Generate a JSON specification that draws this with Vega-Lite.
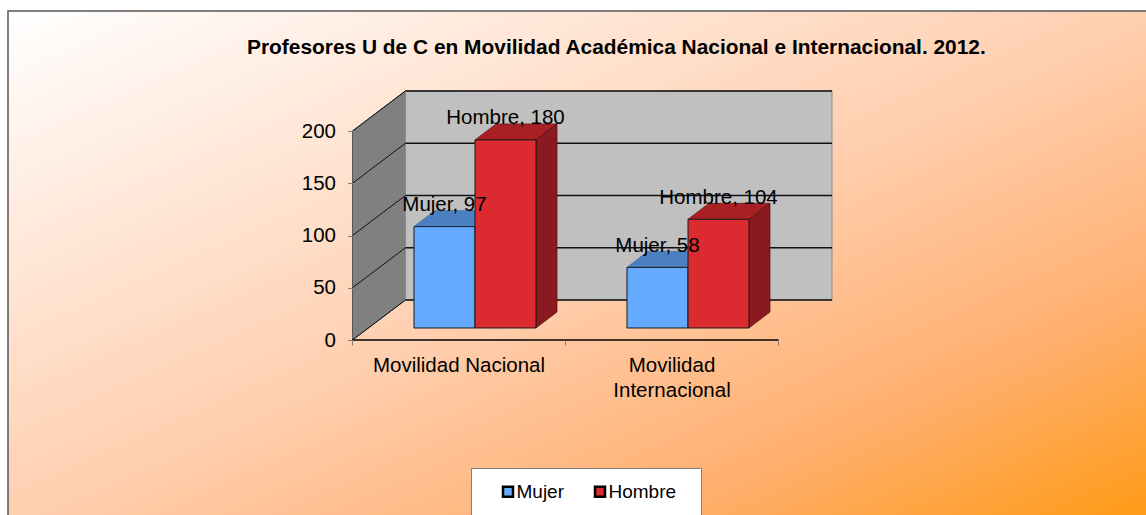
{
"$schema":"https://vega.github.io/schema/vega-lite/v6.json",
"width":1146,"height":515,"padding":0,"autosize":"none","background":"white",
"title":{"text":"Profesores U de C en Movilidad  Académica Nacional e Internacional. 2012.","font":"Liberation Sans","fontWeight":"bold","fontSize":20.9,"color":"#000000","anchor":"start","frame":"group","dx":247,"dy":75,"offset":0,"baseline":"alphabetic"},
"config":{"view":{"stroke":null},"font":"Liberation Sans"},
"datasets":{
"barras":[
{"categoria":"Movilidad Nacional","serie":"Mujer","valor":97},
{"categoria":"Movilidad Nacional","serie":"Hombre","valor":180},
{"categoria":"Movilidad Internacional","serie":"Mujer","valor":58},
{"categoria":"Movilidad Internacional","serie":"Hombre","valor":104}
],
"niveles":[{"nivel":0},{"nivel":50},{"nivel":100},{"nivel":150},{"nivel":200}]
},
"layer":[
{"data":{"values":[{}]},"mark":{"type":"rect","stroke":"#555555","strokeWidth":1.5,"fill":{"gradient":"linear","x1":0,"y1":0,"x2":1,"y2":1,"stops":[{"offset":0,"color":"#FFFFFF"},{"offset":0.5,"color":"#FFCFB0"},{"offset":0.78,"color":"#FFAF6E"},{"offset":1,"color":"#FF9A14"}]}},
"encoding":{
"x":{"datum":-1.6174,"type":"quantitative","scale":{"domain":[-1.6549,3.7254],"range":[0,1146],"nice":false,"zero":false},"axis":{"values":[0,1,2],"labels":false,"domain":false,"grid":false,"ticks":true,"tickSize":5,"tickColor":"#808080","tickWidth":1,"title":null,"orient":"bottom","offset":-175,"zindex":1}},
"x2":{"datum":3.76},
"y":{"datum":314.83,"type":"quantitative","scale":{"domain":[-167.46,325.36],"range":[515,0],"nice":false,"zero":false},"axis":{"values":[0,50,100,150,200],"labels":true,"domain":false,"grid":false,"ticks":true,"tickSize":5,"tickColor":"#808080","tickWidth":1,"title":null,"orient":"left","offset":-352.5,"labelPadding":12,"labelFont":"Liberation Sans","labelFontSize":20.5,"labelColor":"#000000","zindex":1}},
"y2":{"datum":-172}
}},
{"data":{"values":[{"p":0},{"p":1}]},"transform":[{"calculate":"0.2488*datum.p","as":"xp"},{"calculate":"38.3*datum.p","as":"ybase"},{"calculate":"200+38.3*datum.p","as":"ytecho"}],
"mark":{"type":"area","orient":"vertical","color":"#808080","stroke":"#555555","strokeWidth":1},
"encoding":{"x":{"field":"xp","type":"quantitative","scale":{"domain":[-1.6549,3.7254],"range":[0,1146],"nice":false,"zero":false}},"y":{"field":"ybase","type":"quantitative","stack":null,"scale":{"domain":[-167.46,325.36],"range":[515,0],"nice":false,"zero":false}},"y2":{"field":"ytecho"}}},
{"data":{"values":[{}]},"mark":{"type":"rect","fill":"#C0C0C0","stroke":"#8C8C8C","strokeWidth":1},
"encoding":{"x":{"datum":0.2488,"type":"quantitative","scale":{"domain":[-1.6549,3.7254],"range":[0,1146],"nice":false,"zero":false}},"x2":{"datum":2.2512},"y":{"datum":38.3,"type":"quantitative","scale":{"domain":[-167.46,325.36],"range":[515,0],"nice":false,"zero":false}},"y2":{"datum":238.3}}},
{"data":{"name":"niveles"},"transform":[{"calculate":"[0,1]","as":"p"},{"flatten":["p"]},{"calculate":"0.2488*datum.p","as":"xp"},{"calculate":"datum.nivel+38.3*datum.p","as":"yp"}],
"mark":{"type":"line","color":"#111111","strokeWidth":1},
"encoding":{"x":{"field":"xp","type":"quantitative","scale":{"domain":[-1.6549,3.7254],"range":[0,1146],"nice":false,"zero":false}},"y":{"field":"yp","type":"quantitative","stack":null,"scale":{"domain":[-167.46,325.36],"range":[515,0],"nice":false,"zero":false}},"detail":{"field":"nivel"}}},
{"data":{"name":"niveles"},"transform":[{"calculate":"datum.nivel+38.3","as":"yp"}],
"mark":{"type":"rule","color":"#111111","strokeWidth":1.3},
"encoding":{"x":{"datum":0.2488,"type":"quantitative","scale":{"domain":[-1.6549,3.7254],"range":[0,1146],"nice":false,"zero":false}},"x2":{"datum":2.2512},"y":{"field":"yp","type":"quantitative","scale":{"domain":[-167.46,325.36],"range":[515,0],"nice":false,"zero":false}}}},
{"data":{"values":[{}]},"mark":{"type":"rule","color":"#000000","strokeWidth":1.5},
"encoding":{"x":{"datum":0,"type":"quantitative","scale":{"domain":[-1.6549,3.7254],"range":[0,1146],"nice":false,"zero":false}},"x2":{"datum":2},"y":{"datum":0,"type":"quantitative","scale":{"domain":[-167.46,325.36],"range":[515,0],"nice":false,"zero":false}}}},
{"data":{"name":"barras"},"transform":[{"filter":"datum.serie==='Mujer'"},{"calculate":"(datum.categoria==='Movilidad Nacional'?0:1)+0.2887","as":"xa"},{"calculate":"datum.xa+0.2864","as":"xb"},{"calculate":"datum.valor+11.5","as":"ytop"},{"calculate":"[0,1,2,3]","as":"k"},{"flatten":["k"]},{"calculate":"[datum.xa,datum.xa+0.0986,datum.xb,datum.xb+0.0986][datum.k]","as":"xp"},{"calculate":"datum.ytop+(datum.k==3?15.3:0)","as":"y1"},{"calculate":"datum.ytop+(datum.k==0?0:15.3)","as":"y2"}],
"mark":{"type":"area","orient":"vertical","color":"#4A80C2","stroke":"#3A5F90","strokeWidth":0.7},
"encoding":{"x":{"field":"xp","type":"quantitative","scale":{"domain":[-1.6549,3.7254],"range":[0,1146],"nice":false,"zero":false}},"y":{"field":"y1","type":"quantitative","stack":null,"scale":{"domain":[-167.46,325.36],"range":[515,0],"nice":false,"zero":false}},"y2":{"field":"y2"},"detail":{"field":"categoria"}}},
{"data":{"name":"barras"},"transform":[{"filter":"datum.serie==='Hombre'"},{"calculate":"(datum.categoria==='Movilidad Nacional'?0:1)+0.5751","as":"xa"},{"calculate":"datum.xa+0.2864","as":"xb"},{"calculate":"datum.valor+11.5","as":"ytop"},{"calculate":"[0,1,2,3]","as":"k"},{"flatten":["k"]},{"calculate":"[datum.xa,datum.xa+0.0986,datum.xb,datum.xb+0.0986][datum.k]","as":"xp"},{"calculate":"datum.ytop+(datum.k==3?15.3:0)","as":"y1"},{"calculate":"datum.ytop+(datum.k==0?0:15.3)","as":"y2"}],
"mark":{"type":"area","orient":"vertical","color":"#A82024","stroke":"#6E1215","strokeWidth":0.7},
"encoding":{"x":{"field":"xp","type":"quantitative","scale":{"domain":[-1.6549,3.7254],"range":[0,1146],"nice":false,"zero":false}},"y":{"field":"y1","type":"quantitative","stack":null,"scale":{"domain":[-167.46,325.36],"range":[515,0],"nice":false,"zero":false}},"y2":{"field":"y2"},"detail":{"field":"categoria"}}},
{"data":{"name":"barras"},"transform":[{"filter":"datum.serie==='Hombre'"},{"calculate":"(datum.categoria==='Movilidad Nacional'?0:1)+0.8615","as":"xb"},{"calculate":"[0,1]","as":"k"},{"flatten":["k"]},{"calculate":"datum.xb+0.0986*datum.k","as":"xp"},{"calculate":"11.5+15.3*datum.k","as":"y1"},{"calculate":"datum.valor+11.5+15.3*datum.k","as":"y2"}],
"mark":{"type":"area","orient":"vertical","color":"#8B1A20","stroke":"#4A0E10","strokeWidth":0.7},
"encoding":{"x":{"field":"xp","type":"quantitative","scale":{"domain":[-1.6549,3.7254],"range":[0,1146],"nice":false,"zero":false}},"y":{"field":"y1","type":"quantitative","stack":null,"scale":{"domain":[-167.46,325.36],"range":[515,0],"nice":false,"zero":false}},"y2":{"field":"y2"},"detail":{"field":"categoria"}}},
{"data":{"values":[{}]},"mark":{"type":"rect","fill":"#FFFFFF","stroke":"#808080","strokeWidth":1},
"encoding":{"x":{"datum":0.5587,"type":"quantitative","scale":{"domain":[-1.6549,3.7254],"range":[0,1146],"nice":false,"zero":false}},"x2":{"datum":1.6385},"y":{"datum":-122.97,"type":"quantitative","scale":{"domain":[-167.46,325.36],"range":[515,0],"nice":false,"zero":false}},"y2":{"datum":-172}}},
{"data":{"name":"barras"},"transform":[{"calculate":"(datum.categoria==='Movilidad Nacional'?0:1)+(datum.serie==='Mujer'?0.2887:0.5751)","as":"xa"},{"calculate":"datum.xa+0.2864","as":"xb"},{"calculate":"datum.valor+11.5","as":"ytop"},{"calculate":"11.5","as":"ybot"}],
"mark":{"type":"rect","stroke":"#1A1A1A","strokeWidth":1},
"encoding":{"x":{"field":"xa","type":"quantitative","scale":{"domain":[-1.6549,3.7254],"range":[0,1146],"nice":false,"zero":false}},"x2":{"field":"xb"},"y":{"field":"ybot","type":"quantitative","scale":{"domain":[-167.46,325.36],"range":[515,0],"nice":false,"zero":false}},"y2":{"field":"ytop"},
"fill":{"field":"serie","type":"nominal","scale":{"domain":["Mujer","Hombre"],"range":["#66AAFF","#DC2B30"]},"legend":{"title":null,"orient":"none","legendX":498.5,"legendY":482,"direction":"horizontal","symbolType":"square","symbolSize":100,"symbolStrokeWidth":2.5,"symbolStrokeColor":"#000000","labelFont":"Liberation Sans","labelFontSize":19,"labelColor":"#000000","labelOffset":-1,"columnPadding":25,"padding":0,"zindex":1}}}},
{"data":{"name":"barras"},"transform":[{"calculate":"(datum.categoria==='Movilidad Nacional'?0:1)+(datum.serie==='Mujer'?0.4319:0.7183)","as":"xc"},{"calculate":"datum.valor+11.5+14.8","as":"yt"},{"calculate":"datum.serie+', '+datum.valor","as":"rotulo"}],
"mark":{"type":"text","font":"Liberation Sans","fontSize":20.5,"color":"#000000","align":"center","baseline":"alphabetic"},
"encoding":{"x":{"field":"xc","type":"quantitative","scale":{"domain":[-1.6549,3.7254],"range":[0,1146],"nice":false,"zero":false}},"y":{"field":"yt","type":"quantitative","scale":{"domain":[-167.46,325.36],"range":[515,0],"nice":false,"zero":false}},"text":{"field":"rotulo"}}},
{"data":{"name":"barras"},"transform":[{"filter":"datum.serie==='Mujer'"},{"calculate":"datum.categoria==='Movilidad Nacional'?0.5:1.5","as":"xc"},{"calculate":"-30.6","as":"yt"},{"calculate":"replace(datum.categoria,' Internacional','\\nInternacional')","as":"rotulo"}],
"mark":{"type":"text","font":"Liberation Sans","fontSize":20.5,"color":"#000000","align":"center","baseline":"alphabetic","lineBreak":"\n","lineHeight":25},
"encoding":{"x":{"field":"xc","type":"quantitative","scale":{"domain":[-1.6549,3.7254],"range":[0,1146],"nice":false,"zero":false}},"y":{"field":"yt","type":"quantitative","scale":{"domain":[-167.46,325.36],"range":[515,0],"nice":false,"zero":false}},"text":{"field":"rotulo"}}}
]
}
